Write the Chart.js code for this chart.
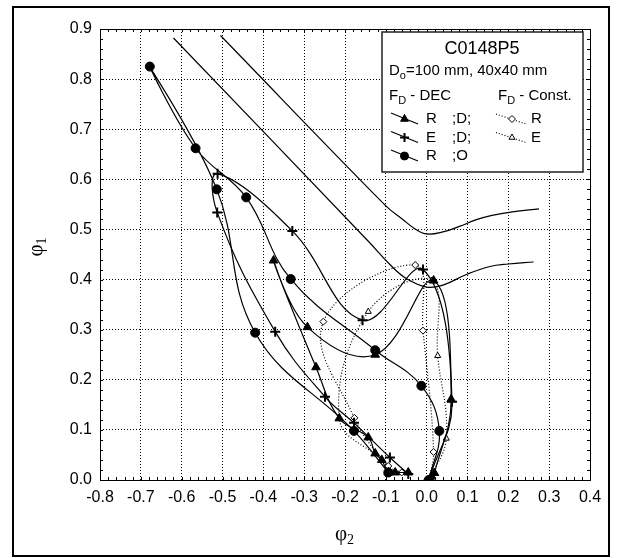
<!DOCTYPE html>
<html>
<head>
<meta charset="utf-8">
<script src="https://cdn.jsdelivr.net/npm/chart.js@4.4.0/dist/chart.umd.min.js"></script>
<style>
html, body { margin: 0; padding: 0; background: #fff; }
</style>
</head>
<body>
<canvas id="grafico" width="622" height="558"></canvas>
<script>
// eixos
const limitesX = [-0.8, 0.4];
const limitesY = [0.0, 0.9];
const passo = 0.1;

// linhas sem marcador (limites)
const linhaSup = [[-0.505, 0.887], [-0.1, 0.547], [-0.06, 0.521], [-0.03, 0.502], [0.0, 0.491], [0.04, 0.495], [0.08, 0.506], [0.12, 0.519], [0.16, 0.528], [0.21, 0.535], [0.275, 0.541]];
const linhaInf = [[-0.62, 0.882], [-0.14, 0.474], [-0.09, 0.43], [-0.05, 0.402], [0.0, 0.385], [0.04, 0.389], [0.1, 0.411], [0.155, 0.426], [0.2, 0.431], [0.262, 0.435]];

// F_D - DEC
const rDec = [[0.005, 0.0], [0.012, 0.007], [0.019, 0.014], [0.06, 0.161], [0.017, 0.398], [-0.126, 0.25], [-0.292, 0.305], [-0.375, 0.438], [-0.271, 0.225], [-0.214, 0.123], [-0.143, 0.085], [-0.126, 0.053], [-0.11, 0.04], [-0.094, 0.015], [-0.077, 0.015], [-0.045, 0.015]];
const eDec = [[0.005, 0.0], [0.062, 0.156], [-0.009, 0.42], [-0.157, 0.319], [-0.329, 0.497], [-0.512, 0.611], [-0.513, 0.534], [-0.371, 0.296], [-0.249, 0.166], [-0.178, 0.114], [-0.09, 0.045], [-0.045, 0.012]];
const rO = [[0.005, 0.0], [0.031, 0.098], [-0.013, 0.188], [-0.126, 0.259], [-0.333, 0.401], [-0.442, 0.564], [-0.566, 0.662], [-0.678, 0.825], [-0.514, 0.58], [-0.42, 0.294], [-0.178, 0.098], [-0.094, 0.015]];

// F_D - Const.
const rConst = [[0.005, 0.0], [0.017, 0.056], [-0.009, 0.298], [-0.028, 0.429], [-0.253, 0.316], [-0.177, 0.124], [-0.094, 0.028], [-0.061, 0.015]];
const eConst = [[0.005, 0.0], [0.048, 0.083], [0.027, 0.248], [0.012, 0.398], [-0.143, 0.336], [-0.214, 0.123], [-0.11, 0.04]];

const pontos = arr => arr.map(p => ({ x: p[0], y: p[1] }));
const fonte = 'Liberation Sans, Arial, sans-serif';

function serie(dados, estilo, raio, cheio, pontilhado) {
    return {
        data: pontos(dados),
        showLine: true,
        tension: 0.4,
        borderColor: '#000',
        borderWidth: 1.2,
        borderDash: pontilhado ? [1, 2] : [],
        pointStyle: estilo,
        pointRadius: raio,
        pointBorderWidth: estilo === 'cross' ? 2 : 1,
        pointBackgroundColor: cheio ? '#000' : '#fff',
        pointBorderColor: '#000',
        pointHoverRadius: raio
    };
}

function marcador(c, estilo, raio, cheio, x, y) {
    c.save();
    c.fillStyle = cheio ? '#000' : '#fff';
    c.strokeStyle = '#000';
    c.lineWidth = estilo === 'cross' ? 2 : 1;
    c.setLineDash([]);
    Chart.helpers.drawPoint(c, { pointStyle: estilo, radius: raio, rotation: 0, borderWidth: c.lineWidth }, x, y);
    c.restore();
}

// texto com subscrito
function textoSub(c, partes, x, y, tam) {
    let px = x;
    partes.forEach(p => {
        if (p.sub) {
            c.font = (tam - 4) + 'px ' + fonte;
            c.fillText(p.t, px, y + 5);
        } else {
            c.font = tam + 'px ' + fonte;
            c.fillText(p.t, px, y);
        }
        px += c.measureText(p.t).width;
    });
}

const molduraPlugin = {
    id: 'moldura',
    beforeDraw(chart) {
        const c = chart.ctx;
        c.save();
        c.fillStyle = '#fff';
        c.fillRect(0, 0, chart.width, chart.height);
        c.restore();
    },
    afterDraw(chart) {
        const c = chart.ctx, a = chart.chartArea;
        const sx = chart.scales.x, sy = chart.scales.y;
        c.save();
        c.strokeStyle = '#000';
        c.setLineDash([]);

        // moldura externa
        c.lineWidth = 2;
        c.strokeRect(13, 7, 596, 549);

        // borda do grafico
        c.lineWidth = 1;
        c.strokeRect(Math.round(a.left) + 0.5, Math.round(a.top) + 0.5, Math.round(a.right - a.left), Math.round(a.bottom - a.top));

        // tiques menores
        c.beginPath();
        for (let i = 0; i <= 60; i++) {
            const px = Math.round(sx.getPixelForValue(limitesX[0] + i * 0.02)) + 0.5;
            c.moveTo(px, a.bottom); c.lineTo(px, a.bottom - 3);
            c.moveTo(px, a.top); c.lineTo(px, a.top + 3);
        }
        for (let i = 0; i <= 45; i++) {
            const py = Math.round(sy.getPixelForValue(limitesY[0] + i * 0.02)) + 0.5;
            c.moveTo(a.left, py); c.lineTo(a.left + 3, py);
            c.moveTo(a.right, py); c.lineTo(a.right - 3, py);
        }
        c.stroke();

        // titulos dos eixos
        c.fillStyle = '#000';
        c.textBaseline = 'middle';
        c.font = '21px Liberation Serif, serif';
        const cx = (a.left + a.right) / 2;
        c.fillText('\u03c6', cx - 10, 534);
        c.font = '14px Liberation Serif, serif';
        c.fillText('2', cx + 2, 540);
        c.save();
        c.translate(36, (a.top + a.bottom) / 2 - 6);
        c.rotate(-Math.PI / 2);
        c.font = '21px Liberation Serif, serif';
        c.fillText('\u03c6', -8, 0);
        c.font = '14px Liberation Serif, serif';
        c.fillText('1', 4, 6);
        c.restore();

        // legenda
        c.fillStyle = '#fff';
        c.fillRect(382, 32, 201, 140);
        c.lineWidth = 1.5;
        c.strokeStyle = '#222';
        c.strokeRect(382, 32, 201, 140);
        c.fillStyle = '#000';
        c.font = '18px ' + fonte;
        c.textAlign = 'center';
        c.fillText('C0148P5', 482, 49);
        c.textAlign = 'left';
        textoSub(c, [{ t: 'D' }, { t: 'o', sub: true }, { t: '=100 mm, 40x40 mm' }], 389, 71, 15);
        textoSub(c, [{ t: 'F' }, { t: 'D', sub: true }, { t: ' - DEC' }], 389, 96, 15);
        textoSub(c, [{ t: 'F' }, { t: 'D', sub: true }, { t: ' - Const.' }], 498, 96, 15);

        const linhas = [
            { y: 119, estilo: 'triangle', raio: 4.5, cheio: true, r1: 'R', r2: ';D;' },
            { y: 137.5, estilo: 'cross', raio: 4.5, cheio: true, r1: 'E', r2: ';D;' },
            { y: 156, estilo: 'circle', raio: 4, cheio: true, r1: 'R', r2: ';O' }
        ];
        linhas.forEach(l => {
            c.strokeStyle = '#000';
            c.lineWidth = 1.2;
            c.setLineDash([]);
            c.beginPath(); c.moveTo(391, l.y - 6); c.lineTo(418, l.y + 5); c.stroke();
            marcador(c, l.estilo, l.raio, l.cheio, 404.5, l.y);
            c.fillStyle = '#000';
            c.font = '15px ' + fonte;
            c.fillText(l.r1, 426, l.y);
            c.fillText(l.r2, 452, l.y);
        });
        const linhasC = [
            { y: 119, estilo: 'rectRot', raio: 3.5, r1: 'R' },
            { y: 137.5, estilo: 'triangle', raio: 3.5, r1: 'E' }
        ];
        linhasC.forEach(l => {
            c.strokeStyle = '#000';
            c.lineWidth = 1.2;
            c.setLineDash([1, 2]);
            c.beginPath(); c.moveTo(496, l.y - 5); c.lineTo(526, l.y + 5); c.stroke();
            marcador(c, l.estilo, l.raio, false, 512, l.y);
            c.fillStyle = '#000';
            c.font = '15px ' + fonte;
            c.fillText(l.r1, 531, l.y);
        });
        c.restore();
    }
};

const rotulo = v => (Math.abs(v) < 1e-9 ? 0 : v).toFixed(1);

const grafico = new Chart(document.getElementById('grafico'), {
    type: 'scatter',
    data: {
        datasets: [
            serie(rDec, 'triangle', 5, true, false),
            serie(eDec, 'cross', 5, true, false),
            serie(rO, 'circle', 4.5, true, false),
            serie(rConst, 'rectRot', 3.5, false, true),
            serie(eConst, 'triangle', 3.5, false, true),
            serie(linhaSup, 'circle', 0, true, false),
            serie(linhaInf, 'circle', 0, true, false)
        ]
    },
    options: {
        responsive: false,
        animation: false,
        events: [],
        layout: { padding: { top: 29, right: 32, left: 0, bottom: 0 } },
        plugins: {
            legend: { display: false },
            tooltip: { enabled: false }
        },
        scales: {
            x: {
                type: 'linear',
                min: limitesX[0],
                max: limitesX[1],
                afterFit: s => { s.height = 78; },
                ticks: {
                    stepSize: passo,
                    autoSkip: false,
                    maxRotation: 0,
                    padding: 8,
                    color: '#000',
                    font: { family: fonte, size: 16 },
                    callback: rotulo
                },
                grid: { color: '#000', lineWidth: 1, drawTicks: false },
                border: { display: false, dash: [1, 2] }
            },
            y: {
                type: 'linear',
                min: limitesY[0],
                max: limitesY[1],
                afterFit: s => { s.width = 100; },
                ticks: {
                    stepSize: passo,
                    autoSkip: false,
                    padding: 8,
                    color: '#000',
                    font: { family: fonte, size: 16 },
                    callback: rotulo
                },
                grid: { color: '#000', lineWidth: 1, drawTicks: false },
                border: { display: false, dash: [1, 2] }
            }
        }
    },
    plugins: [molduraPlugin]
});
</script>
</body>
</html>
